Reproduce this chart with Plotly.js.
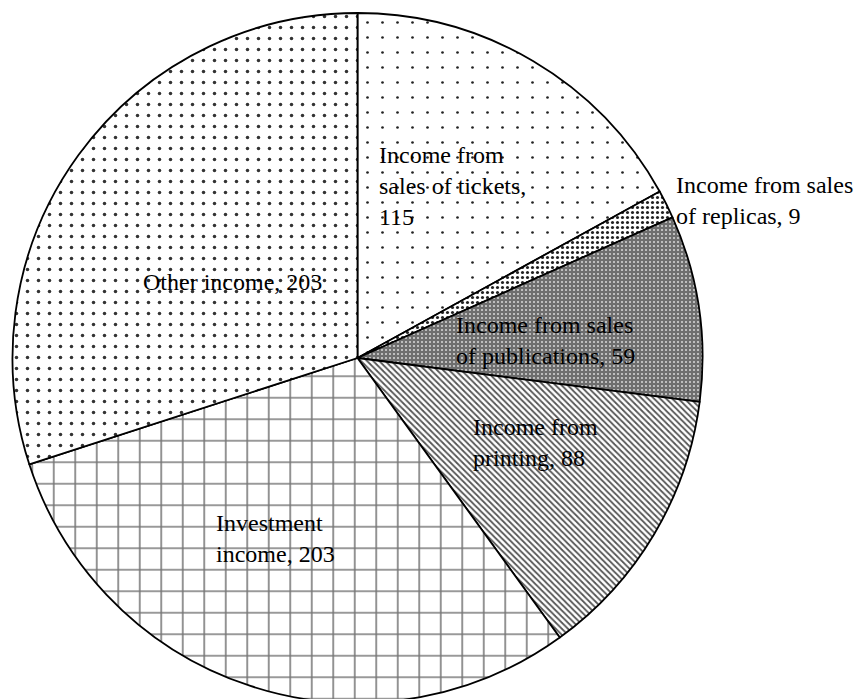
<!DOCTYPE html>
<html>
<head>
<meta charset="utf-8">
<script src="https://cdn.plot.ly/plotly-3.0.1.min.js"></script>
<style>
  html, body { margin: 0; padding: 0; background: #fff; overflow: hidden; }
  #chart { width: 855px; height: 710px; }
</style>
</head>
<body>
<div id="chart"></div>
<script>
// ---- data ----
const categories = [
  "Income from sales of tickets",
  "Income from sales of replicas",
  "Income from sales of publications",
  "Income from printing",
  "Investment income",
  "Other income"
];
const values = [115, 9, 59, 88, 203, 203];
// label text (line breaks as in the reference); the value is appended
const labelPrefixes = [
  "Income from<br>sales of tickets,<br>",
  "Income from sales<br>of replicas, ",
  "Income from sales<br>of publications, ",
  "Income from<br>printing, ",
  "Investment<br>income, ",
  "Other income, "
];

// ---- styles / positions (pixels from top-left of a 855x710 layout) ----
const W = 855, H = 710;
const labelPos = [
  [377, 186], [674, 200], [454, 340], [471, 443], [214, 538], [141, 282]
];
const patterns = [
  {shape: ".", size: 15, solidity: 0.025, fgcolor: "#222", bgcolor: "#fff"},
  {shape: ".", size: 5, solidity: 0.3, fgcolor: "#222", bgcolor: "#fff"},
  {shape: ".", size: 4, solidity: 0.2, fgcolor: "#d8d8d8", bgcolor: "#6e6e6e"},
  {shape: "\\", size: 4.3, solidity: 0.42, fgcolor: "#555", bgcolor: "#fff"},
  {shape: "+", size: 21.5, solidity: 0.14, fgcolor: "#777", bgcolor: "#fff"},
  {shape: ".", size: 11, solidity: 0.08, fgcolor: "#333", bgcolor: "#fff"}
];

const cx = 357.5, cy = 358, r = 345;

const trace = {
  type: "pie",
  labels: categories,
  values: values,
  sort: false,
  direction: "clockwise",
  rotation: 0,
  textinfo: "none",
  hoverinfo: "label+value",
  showlegend: false,
  domain: {
    x: [(cx - r) / W, (cx + r) / W],
    y: [1 - (cy + r) / H, 1 - (cy - r) / H]
  },
  marker: {
    colors: patterns.map(p => p.bgcolor),
    line: {color: "#000", width: 1.8},
    pattern: {
      shape: patterns.map(p => p.shape),
      size: patterns.map(p => p.size),
      solidity: patterns.map(p => p.solidity),
      fgcolor: patterns.map(p => p.fgcolor),
      bgcolor: patterns.map(p => p.bgcolor),
      fillmode: "replace"
    }
  }
};

const annotations = categories.map((c, i) => ({
  xref: "paper", yref: "paper",
  x: labelPos[i][0] / W,
  y: 1 - labelPos[i][1] / H,
  xanchor: "left", yanchor: "middle", align: "left",
  showarrow: false,
  text: labelPrefixes[i] + values[i],
  font: {family: "Liberation Serif, Times New Roman, serif", size: 24, color: "#000"}
}));

const layout = {
  width: W, height: H,
  margin: {l: 0, r: 0, t: 0, b: 0},
  paper_bgcolor: "#fff",
  plot_bgcolor: "#fff",
  annotations: annotations
};

Plotly.newPlot("chart", [trace], layout, {displayModeBar: false, staticPlot: true});
</script>
</body>
</html>
